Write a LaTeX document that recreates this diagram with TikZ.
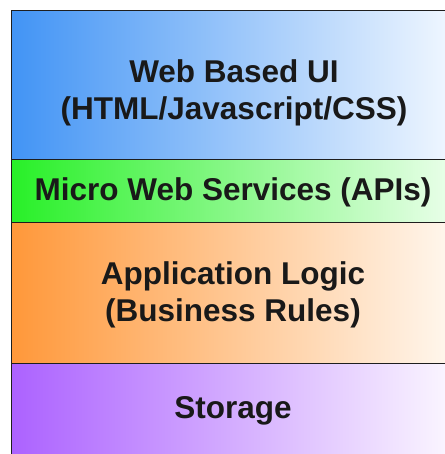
\documentclass[tikz,border=0pt]{standalone}
\usepackage{fontspec}
\setmainfont{Liberation Sans}
\definecolor{uiL}{RGB}{66,148,245}
\definecolor{uiR}{RGB}{242,248,255}
\definecolor{apiL}{RGB}{40,240,40}
\definecolor{apiR}{RGB}{236,255,236}
\definecolor{logL}{RGB}{255,152,58}
\definecolor{logR}{RGB}{255,248,240}
\definecolor{stoL}{RGB}{172,98,255}
\definecolor{stoR}{RGB}{252,248,255}
\definecolor{edge}{RGB}{30,30,30}
\tikzset{
  layer/.style={draw=edge, line width=1.4pt, rectangle, inner sep=0pt,
    anchor=north west, minimum width=445pt},
  caption/.style={font=\bfseries\fontsize{31.5}{37}\selectfont, align=center,
    text=black!90}
}
\begin{document}
\begin{tikzpicture}[x=1pt,y=1pt]
  \useasboundingbox (0,0) rectangle (444,454);
  % layers, top to bottom (right and bottom edges run past the page)
  \node[layer, left color=stoL, right color=stoR, minimum height=96pt] (sto) at (11,91) {};
  \node[layer, left color=logL, right color=logR, minimum height=141pt] (log) at (11,232) {};
  \node[layer, left color=apiL, right color=apiR, minimum height=63pt] (api) at (11,295) {};
  \node[layer, left color=uiL, right color=uiR, minimum height=149pt] (ui) at (11,444) {};
  % captions
  \node[caption] (tui) at (234,361) {Web Based UI\\(HTML/Javascript/CSS)};
  \node[caption] (tapi) at (233,262) {Micro Web Services (APIs)};
  \node[caption] (tlog) at (233,159) {Application Logic\\(Business Rules)};
  \node[caption] (tsto) at (233,43) {Storage};
\end{tikzpicture}
\end{document}
